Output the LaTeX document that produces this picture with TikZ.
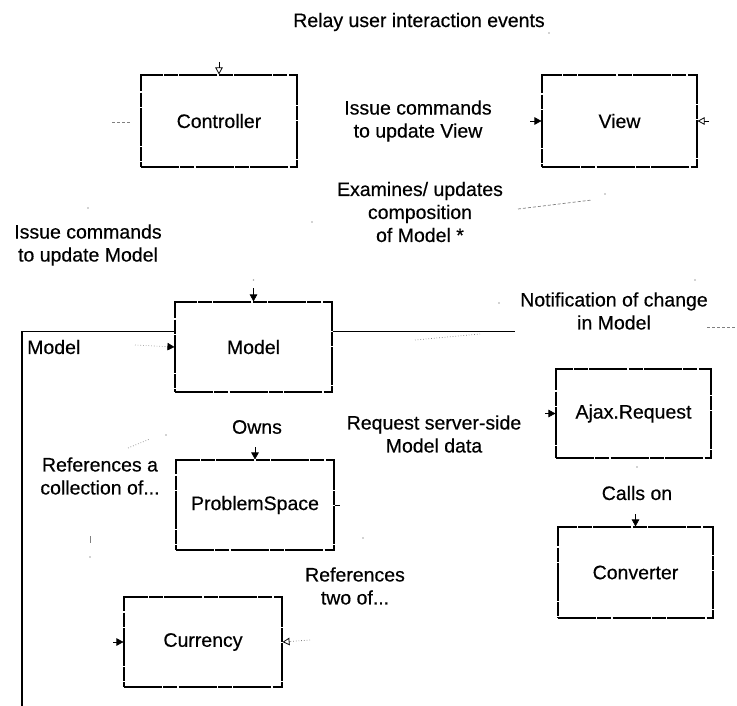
\documentclass[tikz,border=0pt]{standalone}
\usepackage{fontspec}
\setmainfont{Liberation Sans}
\newfontfamily\diafont{Liberation Sans}[FakeBold=0.45]
\usetikzlibrary{arrows.meta}

\begin{document}
\begin{tikzpicture}[x=1pt,y=-1pt,
  every node/.style={font=\diafont\fontsize{19.5}{23}\selectfont},
  cls/.style={draw, line width=1.1pt, inner sep=0pt,
    dash pattern=on 38pt off 1.4pt on 14pt off 1.2pt},
  lbl/.style={align=center, inner sep=0pt},
  tip/.style={-{Triangle[length=7pt,width=7.5pt,color=black]}, line width=0.6pt},
  otip/.style={-{Triangle[open,length=7pt,width=7.5pt,color=black]}, line width=0.8pt},
  faint/.style={gray, line width=0.7pt, dotted},
  frag/.style={gray, line width=0.7pt, dash pattern=on 3pt off 2pt},
  speck/.style={fill=gray!70, circle, inner sep=0pt, minimum size=1.8pt}
]
\useasboundingbox (0,0) rectangle (737,706);

% class boxes
\node[cls, minimum width=156pt, minimum height=92pt] (ctrl)  at (219,121)     {Controller};
\node[cls, minimum width=155pt, minimum height=92pt] (view)  at (619.5,121)   {View};
\node[cls, minimum width=157pt, minimum height=90pt] (model) at (253.5,347)   {Model};
\node[cls, minimum width=155pt, minimum height=89pt] (ajax)  at (633.5,413.5) {Ajax.Request};
\node[cls, minimum width=158pt, minimum height=90pt] (ps)    at (255,505)     {ProblemSpace};
\node[cls, minimum width=155pt, minimum height=91pt] (conv)  at (635.5,572.5) {Converter};
\node[cls, minimum width=158pt, minimum height=90pt] (cur)   at (203,642)     {Currency};

% association labels
\node[lbl] (relay)      at (419,22)  {Relay user interaction events};
\node[lbl] (issueview)  at (418,121) {Issue commands\\to update View};
\node[lbl] (exam)       at (420,212) {Examines/ updates\\composition\\of Model *};
\node[lbl] (issuemodel) at (88,245)  {Issue commands\\to update Model};
\node[lbl, anchor=west] (pkg) at (27,347) {Model};
\node[lbl] (notif)      at (614,311) {Notification of change\\in Model};
\node[lbl] (owns)       at (257,427) {Owns};
\node[lbl] (req)        at (434,434) {Request server-side\\Model data};
\node[lbl] (refcoll)    at (100,476) {References a\\collection of...};
\node[lbl] (reftwo)     at (355,586) {References\\two of...};
\node[lbl] (calls)      at (637,493) {Calls on};

% package frame of the model layer
\coordinate (fbot) at (22,706);
\coordinate (ftop) at (22,331);
\coordinate (fend) at (515,331);
\draw[line width=2.4pt] (fbot) -- (ftop);
\draw[line width=0.9pt] (ftop) -- (ftop -| model.west);
\draw[line width=0.9pt] (model.east |- fend) -- (fend);
\coordinate (fr1) at (707,327);
\coordinate (fr2) at (737,327);
\draw[frag] (fr1) -- (fr2);

% connector ends
\coordinate (ctrlsrc)  at (219,62);
\coordinate (ctrlin)   at (112,122);
\coordinate (ctrlin2)  at (131,122);
\coordinate (viewsrc)  at (530,121);
\coordinate (viewout)  at (709,121);
\coordinate (modelsrc) at (253.5,288);
\coordinate (pkgsrc)   at (135,345);
\coordinate (pssrc)    at (255,447);
\coordinate (ajaxsrc)  at (545,413.5);
\coordinate (convsrc)  at (635.5,514);
\coordinate (cursrc)   at (113,642);
\coordinate (curin)    at (310,640);

\draw[otip] (ctrlsrc) -- (ctrl.north);
\draw[frag] (ctrlin) -- (ctrlin2);
\draw[tip] (viewsrc) -- (view.west);
\draw[otip] (viewout) -- (view.east);
\draw[tip] (modelsrc) -- (model.north);
\draw[faint, tip] (pkgsrc) -- (model.west);
\draw[tip] (pssrc) -- (ps.north);
\draw[tip] (ajaxsrc) -- (ajax.west);
\draw[tip] (convsrc) -- (conv.north);
\draw[tip] (cursrc) -- (cur.west);
\draw[faint, otip] (curin) -- (cur.east);
\draw[line width=0.9pt] (ps.east) -- ++(5,0);

% remains of faded connector lines
\coordinate (ex1) at (518,209);
\coordinate (ex2) at (592,200);
\draw[frag] (ex1) -- (ex2);
\coordinate (rc1) at (128,448);
\coordinate (rc2) at (150,439);
\draw[faint] (rc1) -- (rc2);
\coordinate (nm1) at (415,340);
\coordinate (nm2) at (480,334);
\draw[faint] (nm1) -- (nm2);
\coordinate (rs1) at (90,536);
\coordinate (rs2) at (90,543);
\draw[gray, line width=0.8pt] (rs1) -- (rs2);

\foreach \p [count=\i] in {(549,33),(88,208),(312,222),(253.5,280),(499,303),
                           (695,280),(605,194),(363,538),(637,467),(90,557),(166,435)}
  \node[speck] (sp\i) at \p {};
\end{tikzpicture}
\end{document}
